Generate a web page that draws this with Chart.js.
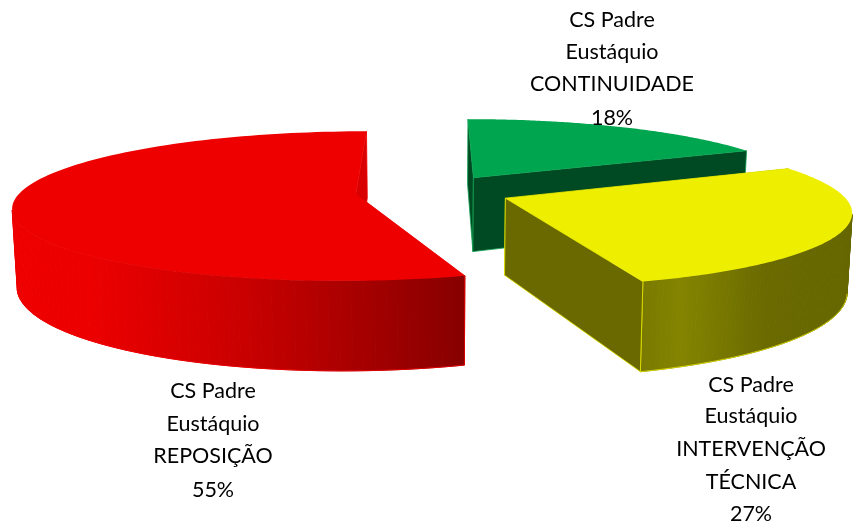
<!DOCTYPE html>
<html>
<head>
<meta charset="utf-8">
<style>html,body{margin:0;padding:0;background:#fff}canvas{display:block}</style>
<script src="https://cdn.jsdelivr.net/npm/chart.js@4"></script>
</head>
<body>
<canvas id="c" width="855" height="525"></canvas>
<script>
const categories = ["CONTINUIDADE", "INTERVENÇÃO TÉCNICA", "REPOSIÇÃO"];
const values = [18, 27, 55];
const percentLabels = ["18%", "27%", "55%"];
const labelLines = [
  ["CS Padre", "Eustáquio", "CONTINUIDADE", "18%"],
  ["CS Padre", "Eustáquio", "INTERVENÇÃO", "TÉCNICA", "27%"],
  ["CS Padre", "Eustáquio", "REPOSIÇÃO", "55%"]
];
const topColors = ["#00A64F", "#EEEE00", "#EE0000"];

// Styling of the 3D projection (not data)
const VIEW = {vx: 433, vy: 191.4, rx: 335, ry: 72, k: 0.16, depth: 76, shrink: 0.988, explode: 0.232};
const faceColors = ["#004A23", "#696900", "#D80000"];
const wallStops = [
  [[470, "#004A23"], [750, "#004A23"]],
  [[645, "#7A7A00"], [680, "#848400"], [765, "#6A6A00"], [855, "#666600"]],
  [[13, "#EE0000"], [90, "#EC0000"], [240, "#CA0000"], [461, "#880000"]]
];
const edgeColors = ["#10A050", "#E8E800", "#F00000"];
const labelPos = [
  {x: 612, ys: [20, 52, 84, 118]},
  {x: 751, ys: [385, 416, 449, 482, 514]},
  {x: 213, ys: [391, 424, 456, 490]}
];
const drawOrder = [0, 2, 1];

function project(X, Y, bottom) {
  const s = 1 / (1 - VIEW.k * Y), f = bottom ? VIEW.shrink : 1;
  return [VIEW.vx + VIEW.rx * X * s * f, VIEW.vy + (VIEW.ry * Y * f + (bottom ? VIEW.depth : 0)) * s];
}
function tracePath(ctx, pts, open) {
  ctx.beginPath();
  pts.forEach((p, i) => i ? ctx.lineTo(p[0], p[1]) : ctx.moveTo(p[0], p[1]));
  if (!open) ctx.closePath();
}
function area(pts) {
  let a = 0;
  pts.forEach((p, i) => { const q = pts[(i + 1) % pts.length]; a += p[0] * q[1] - q[0] * p[1]; });
  return a / 2;
}
const pie3d = {
  id: "pie3d",
  beforeDatasetsDraw(chart) {
    const ctx = chart.ctx, meta = chart.getDatasetMeta(0);
    drawOrder.forEach(i => {
      const el = meta.data[i];
      const a0 = el.startAngle, a1 = el.endAngle, mid = (a0 + a1) / 2;
      const ox = Math.cos(mid) * VIEW.explode, oy = Math.sin(mid) * VIEW.explode;
      const n = 120, topRim = [], botRim = [];
      for (let j = 0; j <= n; j++) {
        const a = a0 + (a1 - a0) * j / n;
        topRim.push(project(ox + Math.cos(a), oy + Math.sin(a), false));
        botRim.push(project(ox + Math.cos(a), oy + Math.sin(a), true));
      }
      const A = project(ox, oy, false), Ab = project(ox, oy, true);
      const startFace = [A, topRim[0], botRim[0], Ab];
      const endFace = [A, topRim[n], botRim[n], Ab];
      const paintFace = f => {
        tracePath(ctx, f);
        ctx.fillStyle = faceColors[i]; ctx.fill();
        ctx.strokeStyle = edgeColors[i]; ctx.lineWidth = 0.8; ctx.stroke();
      };
      const startVisible = area(startFace) < 0, endVisible = area(endFace) > 0;
      if (!startVisible) paintFace(startFace);
      if (!endVisible) paintFace(endFace);
      // outer wall: only the quads turned towards the viewer
      const stops = wallStops[i];
      const x0 = stops[0][0], x1 = stops[stops.length - 1][0];
      const g = ctx.createLinearGradient(x0, 0, x1, 0);
      stops.forEach(s => g.addColorStop((s[0] - x0) / (x1 - x0), s[1]));
      const front = [];
      for (let j = 0; j < n; j++) {
        const q = [topRim[j], topRim[j + 1], botRim[j + 1], botRim[j]];
        if (area(q) < 0) {
          ctx.fillStyle = g; ctx.strokeStyle = g; ctx.lineWidth = 1;
          tracePath(ctx, q); ctx.fill(); ctx.stroke();
          if (!front.length) front.push(botRim[j]);
          front.push(botRim[j + 1]);
        }
      }
      if (front.length) {
        ctx.strokeStyle = edgeColors[i]; ctx.lineWidth = 0.8;
        tracePath(ctx, front, true); ctx.stroke();
        tracePath(ctx, [topRim[n], botRim[n]], true);
        if (area([topRim[n - 1], topRim[n], botRim[n], botRim[n - 1]]) < 0) ctx.stroke();
        tracePath(ctx, [topRim[0], botRim[0]], true);
        if (area([topRim[0], topRim[1], botRim[1], botRim[0]]) < 0) ctx.stroke();
      }
      if (startVisible) paintFace(startFace);
      if (endVisible) paintFace(endFace);
      // top surface
      tracePath(ctx, [A].concat(topRim));
      ctx.fillStyle = el.options.backgroundColor; ctx.fill();
    });
    return false;
  },
  afterDraw(chart) {
    const ctx = chart.ctx;
    ctx.save();
    ctx.fillStyle = "#000";
    ctx.font = "21.5px Lato, Carlito, sans-serif";
    ctx.textAlign = "center";
    ctx.textBaseline = "middle";
    labelLines.forEach((lines, i) => lines.forEach((t, j) => ctx.fillText(t, labelPos[i].x, labelPos[i].ys[j])));
    ctx.restore();
  }
};
new Chart(document.getElementById("c"), {
  type: "pie",
  data: {labels: categories, datasets: [{data: values, backgroundColor: topColors, borderWidth: 0}]},
  options: {
    responsive: false, animation: false, rotation: 0,
    plugins: {legend: {display: false}, tooltip: {enabled: false}}
  },
  plugins: [pie3d]
});
</script>
</body>
</html>
